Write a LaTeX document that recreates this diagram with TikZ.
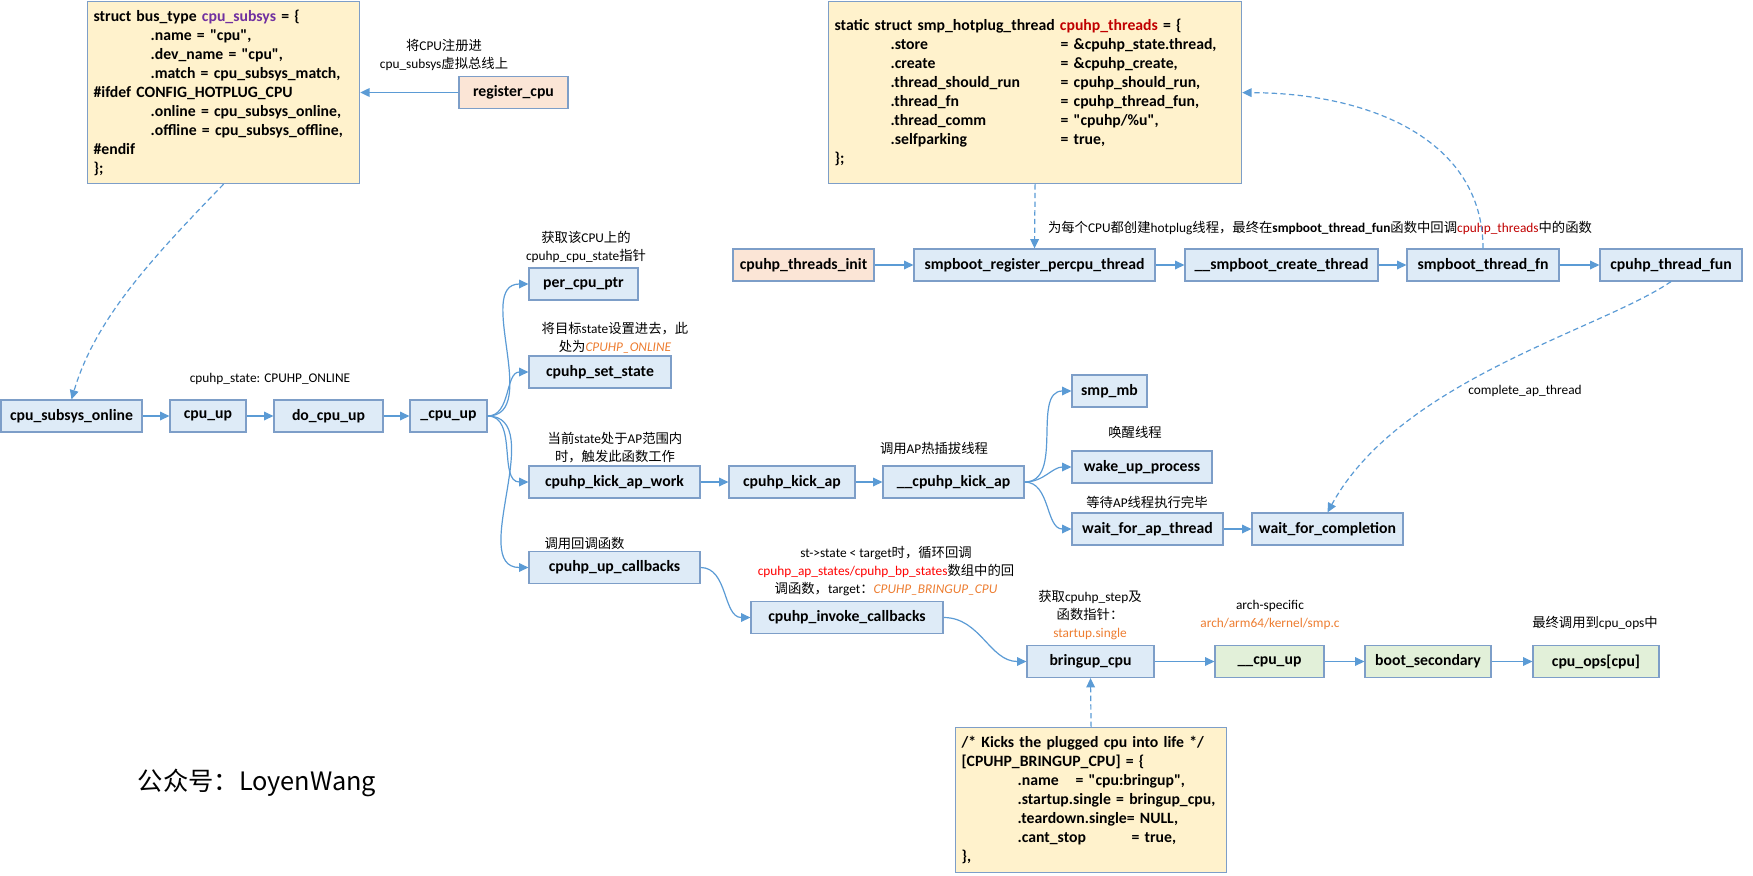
\documentclass[tikz,border=0pt]{standalone}
\usepackage{fontspec}
\setmainfont{Carlito}[Ligatures=TeXOff]
\newfontfamily\zhfont{Noto Sans CJK SC}
\newcommand\zh[1]{{\zhfont #1}}
\usetikzlibrary{arrows.meta}

\definecolor{fnfill}{RGB}{222,235,247}
\definecolor{fnline}{RGB}{125,158,200}
\definecolor{initfill}{RGB}{251,229,214}
\definecolor{archfill}{RGB}{226,240,217}
\definecolor{codefill}{RGB}{255,242,204}
\definecolor{wire}{RGB}{91,155,213}
\definecolor{hlpurple}{RGB}{112,48,160}
\definecolor{hldark}{RGB}{192,0,0}
\definecolor{hlred}{RGB}{255,0,0}
\definecolor{hlorange}{RGB}{237,125,49}

\begin{document}
\begin{tikzpicture}[x=0.75pt,y=-0.75pt,
  func/.style={draw=fnline,fill=fnfill,line width=0.9pt,minimum height=24pt,inner sep=0pt,font=\fontsize{11.8}{14}\selectfont\bfseries},
  init/.style={func,fill=initfill},
  arch/.style={func,fill=archfill},
  bw/.style={minimum width=#1*0.75pt},
  code/.style={draw=fnline,fill=codefill,line width=0.9pt,align=left,anchor=north west,inner xsep=4.5pt,inner ysep=0pt,font=\fontsize{11.8}{14.25}\selectfont\bfseries},
  lbl/.style={align=center,inner sep=0pt,font=\fontsize{10}{13.5}\selectfont},
  flow/.style={draw=wire,line width=0.9pt,-{Triangle[length=7pt,width=6.5pt]}},
  link/.style={flow,dash pattern=on 4pt off 2.5pt}]
\useasboundingbox (0,0) rectangle (1753,875);

\node[code,text width=195pt,minimum height=182*0.75pt] (busdef) at (87,1) {struct bus\_type \textcolor{hlpurple}{cpu\_subsys} = \{\\
\hspace*{42.75pt}.name = "cpu",\\
\hspace*{42.75pt}.dev\_name = "cpu",\\
\hspace*{42.75pt}.match = cpu\_subsys\_match,\\
\#ifdef CONFIG\_HOTPLUG\_CPU\\
\hspace*{42.75pt}.online = cpu\_subsys\_online,\\
\hspace*{42.75pt}.offline = cpu\_subsys\_offline,\\
\#endif\\
\};};

\node[code,text width=300.75pt,minimum height=182*0.75pt] (thrdef) at (828,1) {static struct smp\_hotplug\_thread \textcolor{hldark}{cpuhp\_threads} = \{\\
\hspace*{42pt}\makebox[127.5pt][l]{.store}= \&cpuhp\_state.thread,\\
\hspace*{42pt}\makebox[127.5pt][l]{.create}= \&cpuhp\_create,\\
\hspace*{42pt}\makebox[127.5pt][l]{.thread\_should\_run}= cpuhp\_should\_run,\\
\hspace*{42pt}\makebox[127.5pt][l]{.thread\_fn}= cpuhp\_thread\_fun,\\
\hspace*{42pt}\makebox[127.5pt][l]{.thread\_comm}= "cpuhp/\%u",\\
\hspace*{42pt}\makebox[127.5pt][l]{.selfparking}= true,\\
\};};

\node[code,text width=194.25pt,minimum height=145*0.75pt] (stepdef) at (955,727) {/* Kicks the plugged cpu into life */\\{}%
[CPUHP\_BRINGUP\_CPU] = \{\\
\hspace*{42pt}\makebox[43.5pt][l]{.name}= "cpu:bringup",\\
\hspace*{42pt}.startup.single = bringup\_cpu,\\
\hspace*{42pt}.teardown.single= NULL,\\
\hspace*{42pt}\makebox[85.5pt][l]{.cant\_stop}= true,\\
\},};

\node[init,bw=109] (regcpu) at (513.5,92.5) {register\_cpu};

\node[func,bw=141] (cso) at (71.5,416) {cpu\_subsys\_online};
\node[func,bw=76] (cpuup) at (208,416) {cpu\_up};
\node[func,bw=109] (docpuup) at (328.5,416) {do\_cpu\_up};
\node[func,bw=77] (cpuupint) at (448.5,416) {\_cpu\_up};

\node[func,bw=109] (percpu) at (583.5,284) {per\_cpu\_ptr};
\node[func,bw=142] (setstate) at (600,372) {cpuhp\_set\_state};
\node[func,bw=171] (kickwork) at (614.5,482) {cpuhp\_kick\_ap\_work};
\node[func,bw=171] (upcb) at (614.5,567.5) {cpuhp\_up\_callbacks};
\node[func,bw=126] (kickap) at (792,482) {cpuhp\_kick\_ap};
\node[func,bw=141] (kickapint) at (953.5,482) {\_\_cpuhp\_kick\_ap};
\node[func,bw=75] (smpmb) at (1109.5,391) {smp\_mb};
\node[func,bw=140] (wakeup) at (1142,467) {wake\_up\_process};
\node[func,bw=151] (waitap) at (1147.5,529) {wait\_for\_ap\_thread};
\node[func,bw=151] (waitcomp) at (1327.5,529) {wait\_for\_completion};
\node[func,bw=192] (invoke) at (847,617.5) {cpuhp\_invoke\_callbacks};
\node[func,bw=127] (bringup) at (1090.5,661.5) {bringup\_cpu};
\node[arch,bw=109] (cpuupasm) at (1269.5,661.5) {\_\_cpu\_up};
\node[arch,bw=126] (bootsec) at (1428,661.5) {boot\_secondary};
\node[arch,bw=126] (cpuops) at (1596,661.5) {cpu\_ops[cpu]};

\node[init,bw=141] (thrinit) at (803.5,265) {cpuhp\_threads\_init};
\node[func,bw=241] (regpercpu) at (1034.5,265) {smpboot\_register\_percpu\_thread};
\node[func,bw=193] (createthr) at (1281.5,265) {\_\_smpboot\_create\_thread};
\node[func,bw=152] (thrfn) at (1483,265) {smpboot\_thread\_fn};
\node[func,bw=142] (thrfun) at (1671,265) {cpuhp\_thread\_fun};

\node[lbl] (regnote) at (444,55) {\zh{将}CPU\zh{注册进}\\cpu\_subsys\zh{虚拟总线上}};
\node[lbl] (statenote) at (270,379) {cpuhp\_state: CPUHP\_ONLINE};
\node[lbl] (ptrnote) at (586,246.5) {\zh{获取该}CPU\zh{上的}\\cpuhp\_cpu\_state\zh{指针}};
\node[lbl] (setnote) at (615,338) {\zh{将目标}state\zh{设置进去，此}\\\zh{处为}\textcolor{hlorange}{\itshape CPUHP\_ONLINE}};
\node[lbl] (kicknote) at (615,448) {\zh{当前}state\zh{处于}AP\zh{范围内}\\\zh{时，触发此函数工作}};
\node[lbl] (cbnote) at (584.5,543) {\zh{调用回调函数}};
\node[lbl] (apnote) at (934,448) {\zh{调用}AP\zh{热插拔线程}};
\node[lbl] (wakenote) at (1135,432) {\zh{唤醒线程}};
\node[lbl] (waitnote) at (1147,502) {\zh{等待}AP\zh{线程执行完毕}};
\node[lbl] (compnote) at (1525,391) {complete\_ap\_thread};
\node[lbl] (invnote) at (886,571) {st->state < target\zh{时，循环回调}\\\textcolor{hlred}{cpuhp\_ap\_states/cpuhp\_bp\_states}\zh{数组中的回}\\\zh{调函数，}target\zh{：}\textcolor{hlorange}{\itshape CPUHP\_BRINGUP\_CPU}};
\node[lbl] (stepnote) at (1090,615) {\zh{获取}cpuhp\_step\zh{及}\\\zh{函数指针：}\\\textcolor{hlorange}{startup.single}};
\node[lbl] (archnote) at (1270,615) {arch-specific\\\textcolor{hlorange}{arch/arm64/kernel/smp.c}};
\node[lbl] (opsnote) at (1595,623) {\zh{最终调用到}cpu\_ops\zh{中}};
\node[lbl] (thrnote) at (1320,228) {\zh{为每个}CPU\zh{都创建}hotplug\zh{线程，最终在}\textbf{smpboot\_thread\_fun}\zh{函数中回调}\textcolor{hldark}{cpuhp\_threads}\zh{中的函数}};
\node[font=\zhfont\fontsize{19}{22}\selectfont] (brand) at (257,783) {公众号：LoyenWang};

\draw[flow] (regcpu.west) -- (regcpu.west -| busdef.east);
\foreach \a/\b in {cso/cpuup,cpuup/docpuup,docpuup/cpuupint,kickwork/kickap,kickap/kickapint,waitap/waitcomp,bringup/cpuupasm,cpuupasm/bootsec,bootsec/cpuops,thrinit/regpercpu,regpercpu/createthr,createthr/thrfn,thrfn/thrfun}
  \draw[flow] (\a) -- (\b);
\foreach \b in {percpu,setstate,kickwork,upcb} \draw[flow] (cpuupint.east) to[out=0,in=180] (\b.west);
\foreach \b in {smpmb,wakeup,waitap} \draw[flow] (kickapint.east) to[out=0,in=180] (\b.west);
\draw[flow] (upcb.east) to[out=0,in=180] (invoke.west);
\draw[flow] (invoke.east) to[out=0,in=180] (bringup.west);

\draw[link] (busdef.south) .. controls (150,260) and (95,320) .. (cso.north);
\draw[link] (thrdef.south) -- (regpercpu.north);
\draw[link] (thrfn.north) .. controls (1483,140) and (1370,93) .. (thrdef.east);
\draw[link] (thrfun.south) .. controls (1600,330) and (1400,380) .. (waitcomp.north);
\draw[link] (stepdef.north) -- (bringup.south);

\end{tikzpicture}
\end{document}
